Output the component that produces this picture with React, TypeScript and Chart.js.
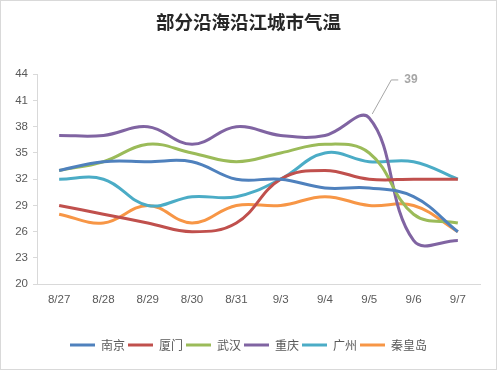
import React, { useEffect, useRef } from "react";
import { Chart, registerables } from "chart.js";

Chart.register(...registerables);

const title = "部分沿海沿江城市气温";
const categories = ["8/27", "8/28", "8/29", "8/30", "8/31", "9/3", "9/4", "9/5", "9/6", "9/7"];
const seriesNames = ["南京", "厦门", "武汉", "重庆", "广州", "秦皇岛"];
const nanjing = [33, 34, 34, 34, 32, 32, 31, 31, 30, 26];
const xiamen = [29, 28, 27, 26, 27, 32, 33, 32, 32, 32];
const wuhan = [33, 34, 36, 35, 34, 35, 36, 35, 28, 27];
const chongqing = [37, 37, 38, 36, 38, 37, 37, 39, 25, 25];
const guangzhou = [32, 32, 29, 30, 30, 32, 35, 34, 34, 32];
const qinhuangdao = [28, 27, 29, 27, 29, 29, 30, 29, 29, 26];
const seriesValues = [nanjing, xiamen, wuhan, chongqing, guangzhou, qinhuangdao];
const colors = ["#4F81BD", "#C0504D", "#9BBB59", "#8064A2", "#4BACC6", "#F79646"];
const yTicks = [20, 23, 26, 29, 32, 35, 38, 41, 44];
const labelSeries = 3;
const labelIndex = 7;

const calloutPlugin = {
  id: "callout",
  afterDatasetsDraw(chart: any) {
    const meta = chart.getDatasetMeta(labelSeries);
    const pt = meta.data[labelIndex];
    if (!pt) return;
    const ctx = chart.ctx;
    const x = pt.x;
    const y = pt.y;
    ctx.save();
    ctx.strokeStyle = "#a6a6a6";
    ctx.lineWidth = 1;
    ctx.beginPath();
    ctx.moveTo(x + 3, y - 4);
    ctx.lineTo(x + 22, y - 38);
    ctx.lineTo(x + 29, y - 38);
    ctx.stroke();
    ctx.fillStyle = "#a6a6a6";
    ctx.font = "bold 12px 'Liberation Sans', sans-serif";
    ctx.textBaseline = "middle";
    ctx.textAlign = "left";
    ctx.fillText(String(seriesValues[labelSeries][labelIndex]), x + 35, y - 38);
    ctx.restore();
  },
};

export default function App() {
  const ref = useRef<HTMLCanvasElement>(null);
  useEffect(() => {
    const canvas = ref.current!;
    const chart = new Chart(canvas, {
      type: "line",
      data: {
        labels: categories,
        datasets: seriesNames.map((name, i) => ({
          label: name,
          data: seriesValues[i],
          borderColor: colors[i],
          backgroundColor: colors[i],
          borderWidth: 3,
          pointRadius: 0,
          tension: 0.4,
          fill: false,
        })),
      },
      options: {
        animation: false,
        responsive: false,
        devicePixelRatio: 1,
        layout: { padding: { left: 0, right: 0, top: 0, bottom: 8 } },
        plugins: {
          title: {
            display: true,
            text: title,
            color: "#262626",
            font: { size: 18.5, weight: "bold", family: "'Noto Sans CJK SC', sans-serif" },
            padding: { top: 10, bottom: 41 },
          },
          legend: {
            position: "bottom",
            labels: {
              usePointStyle: true,
              pointStyle: "line",
              pointStyleWidth: 25,
              padding: 3,
              color: "#595959",
              font: { size: 12, family: "'Noto Sans CJK SC', sans-serif" },
            },
          },
          tooltip: { enabled: false },
        },
        scales: {
          x: {
            offset: true,
            grid: { display: false, drawTicks: false },
            border: { display: true, color: "#d9d9d9", width: 1 },
            ticks: {
              color: "#595959",
              font: { size: 11.5, family: "'Liberation Sans', sans-serif" },
              padding: 9,
              maxRotation: 0,
              autoSkip: false,
            },
            afterFit: (scale: any) => {
              scale.height += 20;
            },
          },
          y: {
            min: 20,
            max: 44,
            afterBuildTicks: (scale: any) => {
              scale.ticks = yTicks.map((v) => ({ value: v }));
            },
            afterFit: (scale: any) => {
              scale.width = 36;
            },
            grid: { display: true, drawOnChartArea: false, drawTicks: true, tickLength: 4, color: "#d9d9d9" },
            border: { display: true, color: "#d9d9d9", width: 1 },
            ticks: {
              color: "#595959",
              font: { size: 11.5, family: "'Liberation Sans', sans-serif" },
              padding: 5,
            },
          },
          spacer: {
            type: "linear",
            position: "right",
            display: true,
            min: 0,
            max: 1,
            grid: { display: false, drawTicks: false },
            border: { display: false },
            ticks: { display: false },
            afterFit: (scale: any) => {
              scale.width = 16;
            },
          },
        },
      },
      plugins: [calloutPlugin],
    } as any);
    return () => chart.destroy();
  }, []);
  return (
    <div
      style={{
        position: "fixed",
        left: 0,
        top: 0,
        width: 497,
        height: 370,
        boxSizing: "border-box",
        border: "1px solid #d9d9d9",
        background: "#fff",
      }}
    >
      <canvas ref={ref} width={495} height={368} style={{ display: "block", width: 495, height: 368 }} />
    </div>
  );
}
